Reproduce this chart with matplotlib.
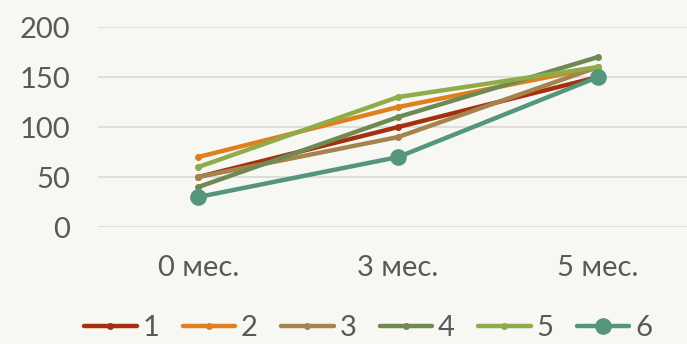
import numpy as np
import matplotlib
matplotlib.use('Agg')
import matplotlib.pyplot as plt

categories = ['0 мес.', '3 мес.', '5 мес.']
series_names = ['1', '2', '3', '4', '5', '6']
s1 = [50, 100, 150]
s2 = [70, 120, 160]
s3 = [50, 90, 160]
s4 = [40, 110, 170]
s5 = [60, 130, 160]
s6 = [30, 70, 150]
y_ticks = [0, 50, 100, 150, 200]

colors = ['#a5300f', '#e07f1d', '#a3844f', '#6e8a52', '#8fab4a', '#55967b']

plt.rcParams['font.family'] = ['Lato', 'DejaVu Sans']

fig = plt.figure(figsize=(6.87, 3.44), dpi=100)
fig.patch.set_facecolor('#f7f8f3')
ax = fig.add_axes([0.143, 0.340, 0.873, 0.5814])
ax.set_facecolor('none')

x = np.arange(len(categories))
data = [s1, s2, s3, s4, s5, s6]
for i, (vals, name) in enumerate(zip(data, series_names)):
    if i == 5:
        ax.plot(x, vals, color=colors[i], lw=3.2, marker='o', ms=11, label=name,
                solid_capstyle='round', zorder=3)
    else:
        ax.plot(x, vals, color=colors[i], lw=3.2, marker='o', ms=4, label=name,
                solid_capstyle='round', zorder=2)

ax.set_xlim(-0.5, 2.5)
ax.set_ylim(0, 200)
ax.set_yticks(y_ticks)
ax.set_xticks(x)
ax.set_xticklabels(categories)
ax.grid(axis='y', color='#d9d9d9', lw=1.2)
ax.set_axisbelow(True)
for sp in ax.spines.values():
    sp.set_visible(False)
ax.tick_params(length=0, labelsize=21, colors='#595959', pad=20)
ax.tick_params(axis='x', pad=20)

leg = ax.legend(loc='upper center', bbox_to_anchor=(0.45, -0.31), ncol=6, frameon=False,
                fontsize=21, handlelength=1.8, columnspacing=0.8, handletextpad=0.2,
                labelcolor='#595959')

fig.savefig('out.png', dpi=100, facecolor=fig.get_facecolor())
